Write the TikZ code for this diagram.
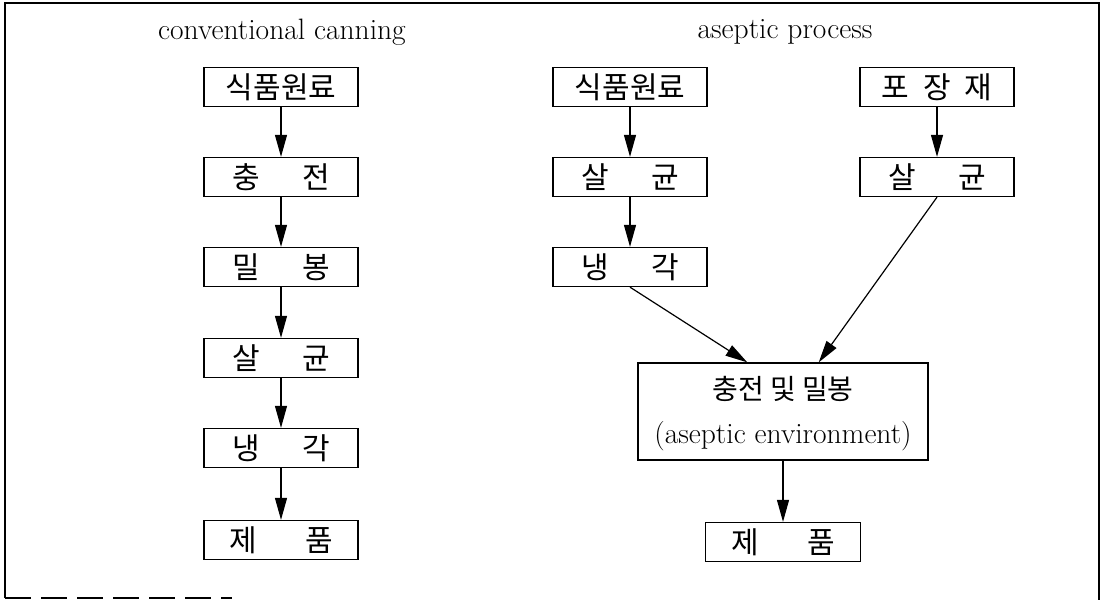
\documentclass[tikz,border=0pt]{standalone}
\usepackage{fontspec}
\newfontfamily\kr{Noto Sans CJK KR}
\usetikzlibrary{arrows.meta}
\tikzset{
  stepbox/.style={draw, line width=1.3pt, minimum width=154pt, minimum height=39pt, inner sep=0pt, font=\kr\fontsize{30}{34}\selectfont},
  bigbox/.style={draw, line width=1.3pt, minimum width=290pt, minimum height=97pt, inner sep=0pt},
  title/.style={font=\fontsize{29.5}{34}\selectfont, inner sep=0pt},
  flow/.style={line width=1.2pt, -{Triangle[length=22pt,width=12pt]}},
  frame/.style={line width=1.6pt}
}
\newcommand{\spread}[2][98pt]{\makebox[#1][s]{#2}}
\begin{document}
\begin{tikzpicture}[x=1pt,y=-1pt]
\useasboundingbox (0,0) rectangle (1102,600);
% outer frame
\draw[frame] (5,598) -- (5,3) -- (1099,3) -- (1099,600);
\draw[frame, dash pattern=on 26pt off 10pt] (5,598) -- (232,598);

% titles
\node[title] (t1) at (282,32) {conventional canning};
\node[title] (t2) at (785,32) {aseptic process};

% left column
\node[stepbox] (L1) at (281,87)  {식품원료};
\node[stepbox] (L2) at (281,177) {\spread{충\hfill 전}};
\node[stepbox] (L3) at (281,267) {\spread{밀\hfill 봉}};
\node[stepbox] (L4) at (281,358) {\spread{살\hfill 균}};
\node[stepbox] (L5) at (281,448) {\spread{냉\hfill 각}};
\node[stepbox] (L6) at (281,540) {\spread[104pt]{제\hfill 품}};

% right column A
\node[stepbox] (R1) at (630,87)  {식품원료};
\node[stepbox] (R2) at (630,177) {\spread{살\hfill 균}};
\node[stepbox] (R3) at (630,267) {\spread{냉\hfill 각}};

% right column B
\node[stepbox] (P1) at (937,87)  {\spread[111pt]{포\hfill 장\hfill 재}};
\node[stepbox] (P2) at (937,177) {\spread{살\hfill 균}};

% big box
\node[bigbox] (B) at (783,411.5) {};
\node[font=\kr\fontsize{28}{32}\selectfont, inner sep=0pt] (Bk) at (783,389) {충전 및 밀봉};
\node[title] (Be) at (783,436) {(aseptic environment)};

% final product
\node[stepbox, minimum width=155pt] (F) at (783,542) {\spread[104pt]{제\hfill 품}};

% arrows
\draw[flow] (L1) -- (L2);
\draw[flow] (L2) -- (L3);
\draw[flow] (L3) -- (L4);
\draw[flow] (L4) -- (L5);
\draw[flow] (L5) -- (L6);
\draw[flow] (R1) -- (R2);
\draw[flow] (R2) -- (R3);
\draw[flow] (P1) -- (P2);
\draw[flow] (R3.south) -- (B.126.6);
\draw[flow] (P2.south) -- (B.54.2);
\draw[flow] (B) -- (F);
\end{tikzpicture}
\end{document}
